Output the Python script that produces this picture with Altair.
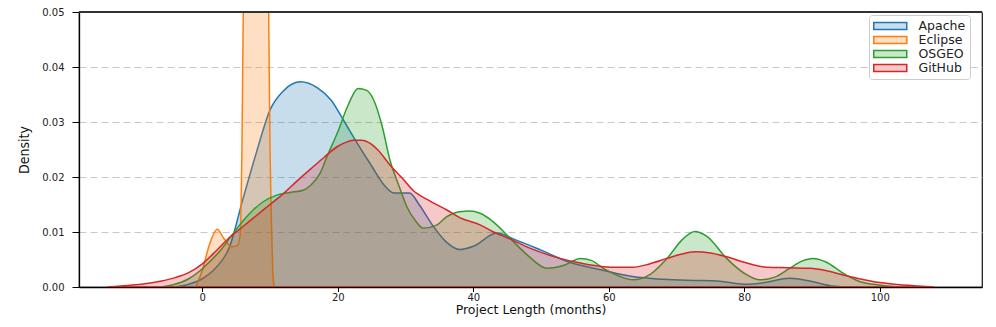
import altair as alt
import pandas as pd

series_names = ["Apache", "Eclipse", "OSGEO", "GitHub"]
series_colors = ["#1f77b4", "#ff7f0e", "#2ca02c", "#d62728"]
series_fills = ["rgba(31,119,180,0.25)", "rgba(255,127,14,0.25)", "rgba(44,160,44,0.25)", "rgba(214,39,40,0.25)"]

apache_x = [-4, -2, 0, 2, 4, 6, 8, 10, 12, 14.5, 17, 19, 21, 23, 25, 27, 28.3, 30.6, 32, 34, 36, 38, 40, 43.5, 46, 50, 54, 59, 63.5, 68, 72.5, 76, 80, 83, 86.7, 90, 93, 96]
apache_y = [0, 0.0005, 0.0015, 0.0035, 0.0072, 0.0160, 0.0245, 0.0322, 0.0357, 0.0373, 0.0362, 0.0340, 0.0300, 0.0259, 0.0220, 0.0183, 0.0171, 0.0171, 0.0150, 0.0112, 0.0082, 0.0068, 0.0074, 0.0098, 0.0087, 0.0067, 0.0046, 0.0031, 0.0019, 0.0014, 0.0012, 0.0011, 0.0005, 0.0008, 0.0016, 0.0010, 0.0002, 0]

eclipse_x = [-1, 0, 1, 2.2, 3.2, 4.4, 5.2, 5.6, 5.85, 6.2, 7, 8, 9, 9.6, 9.8, 10.0, 10.2, 10.4, 10.6]
eclipse_y = [0, 0.0030, 0.0075, 0.0105, 0.0088, 0.0073, 0.0076, 0.0095, 0.0250, 0.0700, 0.1400, 0.1600, 0.1400, 0.0800, 0.0500, 0.0250, 0.0120, 0.0030, 0]

osgeo_x = [-6, -4.3, -2, -0.3, 1, 2.7, 4.6, 6, 7.5, 9, 11, 13, 14.9, 16, 17.4, 18.5, 19.9, 21.5, 23, 24.2, 25.3, 26.5, 27.7, 29, 30.2, 31.5, 32.6, 34.5, 36.1, 38, 39.5, 41, 43, 45.4, 48, 50.9, 53.5, 55.8, 57.5, 59.2, 61.5, 63.6, 66, 68.6, 71, 72.7, 74.5, 77.4, 80, 82.3, 84.5, 86.7, 88.5, 90.1, 92, 94.6, 97, 99.6, 102, 104]
osgeo_y = [0, 0.0004, 0.0015, 0.0030, 0.0045, 0.0067, 0.0098, 0.0120, 0.0140, 0.0155, 0.0167, 0.0172, 0.0176, 0.0185, 0.0207, 0.0240, 0.0279, 0.0330, 0.0361, 0.0358, 0.0340, 0.0295, 0.0231, 0.0185, 0.0146, 0.0120, 0.0107, 0.0112, 0.0128, 0.0137, 0.0138, 0.0134, 0.0118, 0.0089, 0.0058, 0.0034, 0.0040, 0.0052, 0.0048, 0.0034, 0.0020, 0.0013, 0.0022, 0.0052, 0.0088, 0.0101, 0.0092, 0.0052, 0.0025, 0.0013, 0.0018, 0.0034, 0.0047, 0.0052, 0.0046, 0.0025, 0.0010, 0.0004, 0.0001, 0]

github_x = [-14, -12, -9, -6, -4, -2, 0, 2, 4, 6, 8, 10, 12, 14, 16.4, 18, 19.9, 21, 22.3, 23.5, 24.8, 26, 27.7, 29.5, 31.1, 33.5, 36.1, 38, 41, 43, 45.5, 47.9, 50, 52.8, 56, 59.2, 61.5, 63.6, 66, 68.6, 70.5, 72.7, 75, 77.4, 80, 83.3, 86.5, 89.7, 92, 94.6, 97, 100, 103, 105.5, 108]
github_y = [0, 0.0002, 0.0005, 0.0011, 0.0017, 0.0026, 0.0042, 0.0065, 0.0090, 0.0110, 0.0130, 0.0150, 0.0170, 0.0193, 0.0219, 0.0236, 0.0255, 0.0262, 0.0267, 0.0267, 0.0261, 0.0248, 0.0222, 0.0198, 0.0176, 0.0157, 0.0140, 0.0126, 0.0113, 0.0100, 0.0087, 0.0073, 0.0063, 0.0052, 0.0043, 0.0037, 0.0036, 0.0036, 0.0042, 0.0052, 0.0059, 0.0064, 0.0062, 0.0055, 0.0045, 0.0036, 0.0035, 0.0034, 0.0030, 0.0022, 0.0015, 0.0008, 0.0004, 0.0002, 0]

x_ticks = [0, 20, 40, 60, 80, 100]
y_ticks = [0.00, 0.01, 0.02, 0.03, 0.04, 0.05]

rows = []
for name, xs, ys in [("Apache", apache_x, apache_y), ("Eclipse", eclipse_x, eclipse_y),
                     ("OSGEO", osgeo_x, osgeo_y), ("GitHub", github_x, github_y)]:
    for xv, yv in zip(xs, ys):
        rows.append({"series": name, "length": xv, "density": yv})
df = pd.DataFrame(rows)

W, H = 903, 275

legend_def = alt.Legend(title=None, orient="none", legendX=790, legendY=3,
                        symbolType="M-1,-0.56H4.285V0.56H-1Z", symbolSize=156,
                        symbolStrokeWidth=1.5, labelFontSize=12.5,
                        labelOffset=31.5, rowPadding=0,
                        fillColor="white", strokeColor="#cccccc",
                        cornerRadius=3, padding=4)

areas = alt.Chart(df).mark_area(
    strokeWidth=1.5, interpolate="monotone", clip=True
).encode(
    x=alt.X("length:Q", scale=alt.Scale(domain=[-18.2, 115.1], nice=False, zero=False),
            axis=alt.Axis(values=x_ticks, title="Project Length (months)", grid=False,
                          tickSize=4.5, labelPadding=1, titlePadding=1,
                          labelFontSize=10, titleFontSize=12.5)),
    y=alt.Y("density:Q", stack=None, scale=alt.Scale(domain=[0, 0.05], nice=False),
            axis=alt.Axis(values=y_ticks, format=".2f", title="Density", grid=True,
                          gridDash=[7, 4], gridColor="#c8c8c8", gridWidth=1.2,
                          tickSize=7, labelPadding=8, titlePadding=10,
                          labelFontSize=10, titleFontSize=14,
                          titleFont="Liberation Sans Narrow, DejaVu Sans Condensed, sans-serif",
                          titleFontWeight="normal")),
    fill=alt.Fill("series:N", scale=alt.Scale(domain=series_names, range=series_fills),
                  sort=series_names, legend=legend_def),
    stroke=alt.Stroke("series:N", scale=alt.Scale(domain=series_names, range=series_colors),
                      sort=series_names, legend=legend_def),
    detail="series:N",
)

top_border = alt.Chart(df).mark_rule(color="#333333", strokeWidth=1.2).encode(
    x=alt.value(0), x2=alt.value(W), y=alt.value(0)
)

chart = alt.layer(areas, top_border).properties(
    width=W, height=H,
    autosize=alt.AutoSizeParams(type="none"),
    padding={"left": 71, "top": 4, "right": 6, "bottom": 32},
).configure_view(
    stroke="#111111", strokeWidth=1.2
).configure_axis(
    labelFont="DejaVu Sans", titleFont="DejaVu Sans", labelColor="#222222", titleColor="#111111",
    domainColor="#000000", domainWidth=1.3, tickColor="#000000", tickWidth=1,
    titleFontWeight="normal"
).configure_legend(
    labelFont="DejaVu Sans", labelColor="#222222"
)

chart.save("out.html", embed_options={"renderer": "svg", "actions": False})
